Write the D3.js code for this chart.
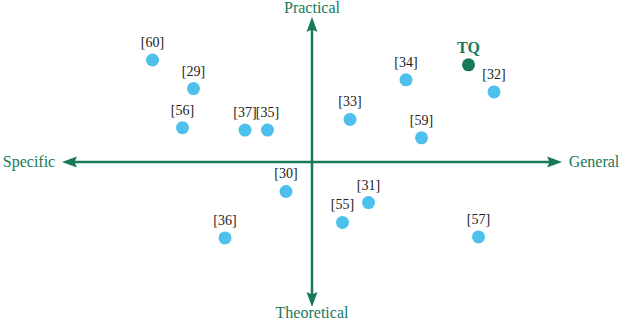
<html>
<head>
<meta charset="utf-8">
<script src="https://d3js.org/d3.v7.min.js"></script>
<style>
	body { margin: 0; background: #fff; }
</style>
</head>
<body>
<svg id="svg" width="623" height="322" font-family="Liberation Serif"></svg>
<script>
'use strict';

const width = 623;
const height = 322;
const green = '#17795a';
const blue = '#4dc0ec';

// axis end labels
const axis_labels = ['Specific', 'General', 'Practical', 'Theoretical'];

// works placed on the plane (x: specific -> general, y: theoretical -> practical)
const refs = ['[60]', '[29]', '[56]', '[37]', '[35]', '[33]', '[34]', '[32]', '[59]', '[30]', '[31]', '[55]', '[36]', '[57]'];
const ref_x = [-3.19, -2.37, -2.59, -1.34, -0.89, 0.76, 1.88, 3.64, 2.19, -0.52, 1.13, 0.61, -1.74, 3.33];
const ref_y = [2.11, 1.52, 0.71, 0.66, 0.66, 0.88, 1.70, 1.45, 0.50, -0.61, -0.84, -1.25, -1.57, -1.55];

// this work
const ours = ['TQ'];
const ours_x = [3.13];
const ours_y = [2.01];

const x = d3.scaleLinear().domain([-5, 5]).range([62, 562]);
const y = d3.scaleLinear().domain([-3, 3]).range([307, 17]);

const svg = d3.select('#svg');

// axes
const head = 'M0,0 L-15,-5.5 L-12.5,0 L-15,5.5 Z';
const axes = svg.append('g');
axes.append('line')
	.attr('x1', x(-5) + 10).attr('x2', x(5) - 10)
	.attr('y1', y(0)).attr('y2', y(0))
	.attr('stroke', green).attr('stroke-width', 2.5);
axes.append('line')
	.attr('x1', x(0)).attr('x2', x(0))
	.attr('y1', y(3) + 10).attr('y2', y(-3) - 10)
	.attr('stroke', green).attr('stroke-width', 2.5);

const tips = [
	{px: x(-5), py: y(0), rot: 180},
	{px: x(5), py: y(0), rot: 0},
	{px: x(0), py: y(3), rot: -90},
	{px: x(0), py: y(-3), rot: 90}
];
axes.selectAll('path')
	.data(tips)
	.join('path')
	.attr('d', head)
	.attr('fill', green)
	.attr('transform', d => `translate(${d.px},${d.py}) rotate(${d.rot})`);

const label_pos = [
	{px: x(-5) - 33, py: y(0) + 5},
	{px: x(5) + 32, py: y(0) + 5},
	{px: x(0), py: 13},
	{px: x(0), py: 318}
];
axes.selectAll('text')
	.data(axis_labels)
	.join('text')
	.attr('x', (d, i) => label_pos[i].px)
	.attr('y', (d, i) => label_pos[i].py)
	.attr('text-anchor', 'middle')
	.attr('font-size', 16)
	.attr('fill', green)
	.text(d => d);

// referenced works
const pts = svg.append('g');
pts.selectAll('circle')
	.data(refs)
	.join('circle')
	.attr('cx', (d, i) => x(ref_x[i]))
	.attr('cy', (d, i) => y(ref_y[i]))
	.attr('r', 6.5)
	.attr('fill', blue);
pts.selectAll('text')
	.data(refs)
	.join('text')
	.attr('x', (d, i) => x(ref_x[i]))
	.attr('y', (d, i) => y(ref_y[i]) - 13)
	.attr('text-anchor', 'middle')
	.attr('font-size', 14)
	.attr('fill', '#222')
	.text(d => d);

// this work
const tq = svg.append('g');
tq.selectAll('circle')
	.data(ours)
	.join('circle')
	.attr('cx', (d, i) => x(ours_x[i]))
	.attr('cy', (d, i) => y(ours_y[i]))
	.attr('r', 6.5)
	.attr('fill', green);
tq.selectAll('text')
	.data(ours)
	.join('text')
	.attr('x', (d, i) => x(ours_x[i]))
	.attr('y', (d, i) => y(ours_y[i]) - 12)
	.attr('text-anchor', 'middle')
	.attr('font-size', 16)
	.attr('font-weight', 'bold')
	.attr('fill', green)
	.text(d => d);
</script>
</body>
</html>
